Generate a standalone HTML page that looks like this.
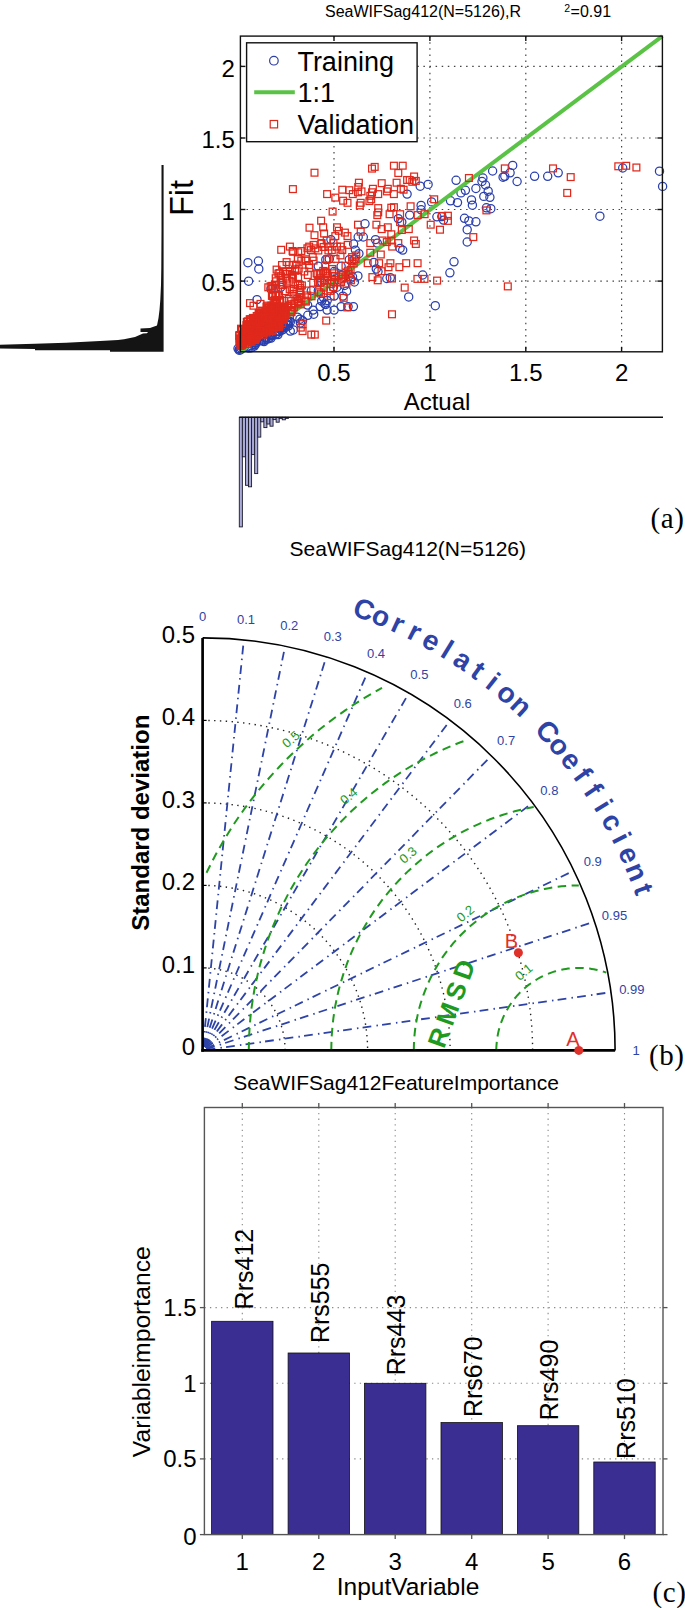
<!DOCTYPE html>
<html><head><meta charset="utf-8"><style>
html,body{margin:0;padding:0;background:#fff;overflow:hidden;}
svg{display:block;}
text{font-family:"Liberation Sans",sans-serif;}
</style></head><body>
<svg width="685" height="1608" viewBox="0 0 685 1608" font-family="Liberation Sans, sans-serif">
<rect width="685" height="1608" fill="#fff"/>
<g id="pa">
<text x="325.0" y="17.2" font-size="16" text-anchor="start" fill="#000">SeaWIFSag412(N=5126),R</text>
<text x="564.3" y="11.8" font-size="10.5" text-anchor="start" fill="#000">2</text>
<text x="570.6" y="17.2" font-size="16" text-anchor="start" fill="#000">=0.91</text>
<line x1="334.0" y1="36.1" x2="334.0" y2="351.8" stroke="#444" stroke-width="1.2" stroke-dasharray="1.5 4.6"/>
<line x1="240.4" y1="281.1" x2="662.4" y2="281.1" stroke="#444" stroke-width="1.2" stroke-dasharray="1.5 4.6"/>
<line x1="429.9" y1="36.1" x2="429.9" y2="351.8" stroke="#444" stroke-width="1.2" stroke-dasharray="1.5 4.6"/>
<line x1="240.4" y1="209.5" x2="662.4" y2="209.5" stroke="#444" stroke-width="1.2" stroke-dasharray="1.5 4.6"/>
<line x1="525.8" y1="36.1" x2="525.8" y2="351.8" stroke="#444" stroke-width="1.2" stroke-dasharray="1.5 4.6"/>
<line x1="240.4" y1="138.0" x2="662.4" y2="138.0" stroke="#444" stroke-width="1.2" stroke-dasharray="1.5 4.6"/>
<line x1="621.6" y1="36.1" x2="621.6" y2="351.8" stroke="#444" stroke-width="1.2" stroke-dasharray="1.5 4.6"/>
<line x1="240.4" y1="66.4" x2="662.4" y2="66.4" stroke="#444" stroke-width="1.2" stroke-dasharray="1.5 4.6"/>
<g fill="none" stroke="#2a3fae" stroke-width="1.25">
<circle cx="264.9" cy="337.7" r="4.1"/>
<circle cx="265.6" cy="339.4" r="4.1"/>
<circle cx="264.5" cy="340.2" r="4.1"/>
<circle cx="279.1" cy="331.4" r="4.1"/>
<circle cx="279.5" cy="329.0" r="4.1"/>
<circle cx="239.1" cy="350.2" r="4.1"/>
<circle cx="251.1" cy="345.6" r="4.1"/>
<circle cx="287.5" cy="324.8" r="4.1"/>
<circle cx="238.0" cy="348.5" r="4.1"/>
<circle cx="256.4" cy="341.0" r="4.1"/>
<circle cx="269.0" cy="338.4" r="4.1"/>
<circle cx="277.1" cy="331.0" r="4.1"/>
<circle cx="275.4" cy="334.7" r="4.1"/>
<circle cx="271.4" cy="334.5" r="4.1"/>
<circle cx="254.3" cy="346.1" r="4.1"/>
<circle cx="254.0" cy="344.5" r="4.1"/>
<circle cx="282.6" cy="326.0" r="4.1"/>
<circle cx="286.8" cy="320.9" r="4.1"/>
<circle cx="248.7" cy="348.1" r="4.1"/>
<circle cx="255.4" cy="344.4" r="4.1"/>
<circle cx="289.2" cy="320.9" r="4.1"/>
<circle cx="253.0" cy="342.4" r="4.1"/>
<circle cx="272.1" cy="335.5" r="4.1"/>
<circle cx="248.5" cy="346.5" r="4.1"/>
<circle cx="287.9" cy="322.3" r="4.1"/>
<circle cx="272.1" cy="335.7" r="4.1"/>
<circle cx="284.1" cy="325.8" r="4.1"/>
<circle cx="285.8" cy="322.5" r="4.1"/>
<circle cx="259.2" cy="341.0" r="4.1"/>
<circle cx="290.3" cy="321.9" r="4.1"/>
<circle cx="288.0" cy="321.2" r="4.1"/>
<circle cx="240.4" cy="349.9" r="4.1"/>
<circle cx="277.7" cy="331.6" r="4.1"/>
<circle cx="270.0" cy="334.9" r="4.1"/>
<circle cx="279.1" cy="331.6" r="4.1"/>
<circle cx="239.5" cy="349.2" r="4.1"/>
<circle cx="266.0" cy="338.0" r="4.1"/>
<circle cx="252.6" cy="342.0" r="4.1"/>
<circle cx="241.0" cy="348.3" r="4.1"/>
<circle cx="276.8" cy="333.7" r="4.1"/>
<circle cx="261.4" cy="340.4" r="4.1"/>
<circle cx="243.3" cy="347.9" r="4.1"/>
<circle cx="267.3" cy="339.1" r="4.1"/>
<circle cx="281.5" cy="330.4" r="4.1"/>
<circle cx="242.3" cy="347.3" r="4.1"/>
<circle cx="256.7" cy="342.3" r="4.1"/>
<circle cx="281.2" cy="328.2" r="4.1"/>
<circle cx="285.4" cy="327.4" r="4.1"/>
<circle cx="266.9" cy="337.0" r="4.1"/>
<circle cx="251.3" cy="347.7" r="4.1"/>
<circle cx="293.3" cy="329.9" r="4.1"/>
<circle cx="342.9" cy="296.1" r="4.1"/>
<circle cx="324.8" cy="303.9" r="4.1"/>
<circle cx="333.4" cy="287.3" r="4.1"/>
<circle cx="307.6" cy="305.1" r="4.1"/>
<circle cx="299.9" cy="319.2" r="4.1"/>
<circle cx="321.7" cy="301.1" r="4.1"/>
<circle cx="346.6" cy="291.2" r="4.1"/>
<circle cx="350.5" cy="278.5" r="4.1"/>
<circle cx="344.5" cy="285.5" r="4.1"/>
<circle cx="325.9" cy="304.5" r="4.1"/>
<circle cx="300.4" cy="322.9" r="4.1"/>
<circle cx="313.7" cy="314.2" r="4.1"/>
<circle cx="336.9" cy="287.2" r="4.1"/>
<circle cx="327.2" cy="300.5" r="4.1"/>
<circle cx="456.1" cy="180.3" r="4.1"/>
<circle cx="492.6" cy="171.0" r="4.1"/>
<circle cx="512.7" cy="165.4" r="4.1"/>
<circle cx="510.1" cy="172.8" r="4.1"/>
<circle cx="503.1" cy="177.2" r="4.1"/>
<circle cx="504.8" cy="176.3" r="4.1"/>
<circle cx="517.1" cy="181.5" r="4.1"/>
<circle cx="534.6" cy="176.3" r="4.1"/>
<circle cx="547.7" cy="176.3" r="4.1"/>
<circle cx="558.2" cy="172.8" r="4.1"/>
<circle cx="482.9" cy="178.0" r="4.1"/>
<circle cx="482.0" cy="181.5" r="4.1"/>
<circle cx="485.5" cy="185.0" r="4.1"/>
<circle cx="475.9" cy="188.5" r="4.1"/>
<circle cx="465.4" cy="190.3" r="4.1"/>
<circle cx="461.0" cy="192.9" r="4.1"/>
<circle cx="488.2" cy="191.2" r="4.1"/>
<circle cx="483.8" cy="196.4" r="4.1"/>
<circle cx="489.9" cy="197.3" r="4.1"/>
<circle cx="471.5" cy="199.9" r="4.1"/>
<circle cx="472.4" cy="205.2" r="4.1"/>
<circle cx="457.5" cy="202.6" r="4.1"/>
<circle cx="450.5" cy="200.8" r="4.1"/>
<circle cx="486.4" cy="207.8" r="4.1"/>
<circle cx="490.8" cy="208.7" r="4.1"/>
<circle cx="464.5" cy="218.3" r="4.1"/>
<circle cx="468.9" cy="220.9" r="4.1"/>
<circle cx="475.9" cy="221.8" r="4.1"/>
<circle cx="467.2" cy="229.7" r="4.1"/>
<circle cx="467.2" cy="242.0" r="4.1"/>
<circle cx="454.0" cy="261.8" r="4.1"/>
<circle cx="441.8" cy="216.6" r="4.1"/>
<circle cx="443.5" cy="220.1" r="4.1"/>
<circle cx="599.9" cy="216.2" r="4.1"/>
<circle cx="622.7" cy="168.0" r="4.1"/>
<circle cx="659.5" cy="171.2" r="4.1"/>
<circle cx="662.6" cy="186.4" r="4.1"/>
<circle cx="428.1" cy="184.4" r="4.1"/>
<circle cx="420.2" cy="186.2" r="4.1"/>
<circle cx="407.1" cy="194.1" r="4.1"/>
<circle cx="421.1" cy="205.4" r="4.1"/>
<circle cx="431.6" cy="201.9" r="4.1"/>
<circle cx="398.3" cy="218.6" r="4.1"/>
<circle cx="409.7" cy="215.1" r="4.1"/>
<circle cx="401.8" cy="222.1" r="4.1"/>
<circle cx="421.1" cy="209.8" r="4.1"/>
<circle cx="436.9" cy="216.8" r="4.1"/>
<circle cx="365.0" cy="223.8" r="4.1"/>
<circle cx="363.3" cy="237.0" r="4.1"/>
<circle cx="375.5" cy="239.6" r="4.1"/>
<circle cx="377.3" cy="243.1" r="4.1"/>
<circle cx="353.6" cy="244.0" r="4.1"/>
<circle cx="355.4" cy="250.1" r="4.1"/>
<circle cx="358.9" cy="253.6" r="4.1"/>
<circle cx="349.3" cy="259.7" r="4.1"/>
<circle cx="400.1" cy="248.4" r="4.1"/>
<circle cx="402.7" cy="250.1" r="4.1"/>
<circle cx="330.9" cy="239.6" r="4.1"/>
<circle cx="373.8" cy="262.4" r="4.1"/>
<circle cx="247.9" cy="262.7" r="4.1"/>
<circle cx="258.4" cy="261.0" r="4.1"/>
<circle cx="325.8" cy="259.7" r="4.1"/>
<circle cx="329.3" cy="258.9" r="4.1"/>
<circle cx="358.2" cy="237.0" r="4.1"/>
<circle cx="258.8" cy="268.9" r="4.1"/>
<circle cx="248.6" cy="281.2" r="4.1"/>
<circle cx="257.0" cy="299.6" r="4.1"/>
<circle cx="271.0" cy="289.1" r="4.1"/>
<circle cx="280.7" cy="287.3" r="4.1"/>
<circle cx="318.3" cy="266.3" r="4.1"/>
<circle cx="334.1" cy="271.5" r="4.1"/>
<circle cx="341.1" cy="266.3" r="4.1"/>
<circle cx="354.2" cy="259.3" r="4.1"/>
<circle cx="352.5" cy="276.8" r="4.1"/>
<circle cx="321.8" cy="282.0" r="4.1"/>
<circle cx="311.3" cy="290.8" r="4.1"/>
<circle cx="318.3" cy="290.8" r="4.1"/>
<circle cx="323.6" cy="297.8" r="4.1"/>
<circle cx="334.1" cy="296.1" r="4.1"/>
<circle cx="341.1" cy="306.6" r="4.1"/>
<circle cx="348.1" cy="306.6" r="4.1"/>
<circle cx="353.4" cy="306.6" r="4.1"/>
<circle cx="334.1" cy="310.1" r="4.1"/>
<circle cx="327.1" cy="310.1" r="4.1"/>
<circle cx="320.1" cy="306.6" r="4.1"/>
<circle cx="313.1" cy="310.1" r="4.1"/>
<circle cx="307.8" cy="315.3" r="4.1"/>
<circle cx="302.6" cy="320.6" r="4.1"/>
<circle cx="297.3" cy="317.1" r="4.1"/>
<circle cx="290.3" cy="331.1" r="4.1"/>
<circle cx="288.6" cy="325.8" r="4.1"/>
<circle cx="283.3" cy="329.3" r="4.1"/>
<circle cx="278.0" cy="334.6" r="4.1"/>
<circle cx="271.0" cy="338.1" r="4.1"/>
<circle cx="264.0" cy="341.6" r="4.1"/>
<circle cx="376.3" cy="268.9" r="4.1"/>
<circle cx="378.0" cy="271.5" r="4.1"/>
<circle cx="357.9" cy="275.9" r="4.1"/>
<circle cx="354.4" cy="282.0" r="4.1"/>
<circle cx="386.8" cy="278.5" r="4.1"/>
<circle cx="390.3" cy="277.7" r="4.1"/>
<circle cx="422.7" cy="275.0" r="4.1"/>
<circle cx="408.7" cy="296.9" r="4.1"/>
<circle cx="435.3" cy="305.7" r="4.1"/>
<circle cx="449.9" cy="272.8" r="4.1"/>
</g>
<line x1="240.4" y1="351.8" x2="662.4" y2="36.1" stroke="#5ac346" stroke-width="4"/>
<g fill="none" stroke="#e0281c" stroke-width="1.25">
<rect x="267.2" y="319.5" width="6.8" height="6.8"/>
<rect x="261.2" y="325.6" width="6.8" height="6.8"/>
<rect x="276.0" y="315.9" width="6.8" height="6.8"/>
<rect x="276.6" y="316.0" width="6.8" height="6.8"/>
<rect x="247.7" y="325.3" width="6.8" height="6.8"/>
<rect x="250.5" y="334.6" width="6.8" height="6.8"/>
<rect x="342.1" y="262.3" width="6.8" height="6.8"/>
<rect x="326.9" y="287.5" width="6.8" height="6.8"/>
<rect x="328.8" y="265.6" width="6.8" height="6.8"/>
<rect x="267.9" y="302.2" width="6.8" height="6.8"/>
<rect x="267.2" y="316.1" width="6.8" height="6.8"/>
<rect x="248.1" y="338.6" width="6.8" height="6.8"/>
<rect x="262.0" y="323.2" width="6.8" height="6.8"/>
<rect x="322.5" y="270.9" width="6.8" height="6.8"/>
<rect x="320.6" y="284.2" width="6.8" height="6.8"/>
<rect x="280.7" y="303.9" width="6.8" height="6.8"/>
<rect x="239.3" y="339.0" width="6.8" height="6.8"/>
<rect x="314.1" y="270.8" width="6.8" height="6.8"/>
<rect x="273.0" y="299.9" width="6.8" height="6.8"/>
<rect x="253.4" y="323.5" width="6.8" height="6.8"/>
<rect x="250.1" y="332.7" width="6.8" height="6.8"/>
<rect x="254.1" y="325.3" width="6.8" height="6.8"/>
<rect x="266.6" y="322.8" width="6.8" height="6.8"/>
<rect x="278.0" y="316.7" width="6.8" height="6.8"/>
<rect x="302.2" y="297.2" width="6.8" height="6.8"/>
<rect x="265.1" y="326.4" width="6.8" height="6.8"/>
<rect x="263.9" y="307.0" width="6.8" height="6.8"/>
<rect x="240.5" y="330.7" width="6.8" height="6.8"/>
<rect x="267.6" y="321.0" width="6.8" height="6.8"/>
<rect x="276.1" y="296.7" width="6.8" height="6.8"/>
<rect x="266.0" y="326.1" width="6.8" height="6.8"/>
<rect x="251.1" y="315.5" width="6.8" height="6.8"/>
<rect x="260.4" y="325.0" width="6.8" height="6.8"/>
<rect x="245.1" y="325.6" width="6.8" height="6.8"/>
<rect x="263.3" y="309.2" width="6.8" height="6.8"/>
<rect x="317.7" y="269.5" width="6.8" height="6.8"/>
<rect x="268.5" y="327.8" width="6.8" height="6.8"/>
<rect x="249.9" y="322.2" width="6.8" height="6.8"/>
<rect x="243.8" y="330.2" width="6.8" height="6.8"/>
<rect x="271.2" y="309.0" width="6.8" height="6.8"/>
<rect x="273.1" y="306.5" width="6.8" height="6.8"/>
<rect x="331.3" y="273.0" width="6.8" height="6.8"/>
<rect x="280.4" y="297.4" width="6.8" height="6.8"/>
<rect x="269.3" y="303.0" width="6.8" height="6.8"/>
<rect x="258.6" y="327.9" width="6.8" height="6.8"/>
<rect x="293.1" y="261.2" width="6.8" height="6.8"/>
<rect x="246.7" y="337.4" width="6.8" height="6.8"/>
<rect x="254.1" y="314.7" width="6.8" height="6.8"/>
<rect x="250.6" y="314.7" width="6.8" height="6.8"/>
<rect x="279.5" y="316.4" width="6.8" height="6.8"/>
<rect x="251.7" y="331.6" width="6.8" height="6.8"/>
<rect x="296.2" y="294.1" width="6.8" height="6.8"/>
<rect x="262.9" y="307.7" width="6.8" height="6.8"/>
<rect x="263.5" y="302.2" width="6.8" height="6.8"/>
<rect x="251.2" y="334.9" width="6.8" height="6.8"/>
<rect x="276.1" y="303.4" width="6.8" height="6.8"/>
<rect x="279.8" y="307.2" width="6.8" height="6.8"/>
<rect x="260.7" y="329.1" width="6.8" height="6.8"/>
<rect x="269.1" y="284.9" width="6.8" height="6.8"/>
<rect x="283.3" y="280.0" width="6.8" height="6.8"/>
<rect x="238.9" y="334.0" width="6.8" height="6.8"/>
<rect x="303.9" y="292.0" width="6.8" height="6.8"/>
<rect x="252.0" y="317.9" width="6.8" height="6.8"/>
<rect x="321.8" y="262.1" width="6.8" height="6.8"/>
<rect x="277.1" y="278.8" width="6.8" height="6.8"/>
<rect x="242.2" y="329.2" width="6.8" height="6.8"/>
<rect x="308.2" y="292.9" width="6.8" height="6.8"/>
<rect x="269.2" y="307.5" width="6.8" height="6.8"/>
<rect x="274.9" y="309.0" width="6.8" height="6.8"/>
<rect x="273.5" y="320.8" width="6.8" height="6.8"/>
<rect x="255.3" y="317.1" width="6.8" height="6.8"/>
<rect x="278.7" y="319.6" width="6.8" height="6.8"/>
<rect x="247.7" y="316.9" width="6.8" height="6.8"/>
<rect x="287.8" y="297.7" width="6.8" height="6.8"/>
<rect x="274.2" y="322.8" width="6.8" height="6.8"/>
<rect x="269.0" y="317.3" width="6.8" height="6.8"/>
<rect x="272.8" y="317.2" width="6.8" height="6.8"/>
<rect x="259.1" y="328.8" width="6.8" height="6.8"/>
<rect x="276.1" y="269.7" width="6.8" height="6.8"/>
<rect x="290.9" y="300.2" width="6.8" height="6.8"/>
<rect x="245.8" y="325.6" width="6.8" height="6.8"/>
<rect x="267.7" y="304.6" width="6.8" height="6.8"/>
<rect x="273.7" y="311.3" width="6.8" height="6.8"/>
<rect x="257.6" y="309.3" width="6.8" height="6.8"/>
<rect x="275.4" y="306.8" width="6.8" height="6.8"/>
<rect x="270.5" y="319.7" width="6.8" height="6.8"/>
<rect x="264.2" y="307.3" width="6.8" height="6.8"/>
<rect x="260.9" y="315.2" width="6.8" height="6.8"/>
<rect x="288.7" y="273.2" width="6.8" height="6.8"/>
<rect x="257.9" y="326.8" width="6.8" height="6.8"/>
<rect x="287.2" y="308.2" width="6.8" height="6.8"/>
<rect x="268.5" y="292.5" width="6.8" height="6.8"/>
<rect x="243.0" y="321.7" width="6.8" height="6.8"/>
<rect x="281.5" y="287.8" width="6.8" height="6.8"/>
<rect x="294.9" y="299.4" width="6.8" height="6.8"/>
<rect x="274.2" y="316.3" width="6.8" height="6.8"/>
<rect x="275.0" y="308.3" width="6.8" height="6.8"/>
<rect x="259.6" y="324.8" width="6.8" height="6.8"/>
<rect x="271.7" y="312.5" width="6.8" height="6.8"/>
<rect x="319.8" y="267.5" width="6.8" height="6.8"/>
<rect x="246.3" y="316.0" width="6.8" height="6.8"/>
<rect x="249.5" y="314.5" width="6.8" height="6.8"/>
<rect x="276.6" y="296.7" width="6.8" height="6.8"/>
<rect x="247.3" y="330.2" width="6.8" height="6.8"/>
<rect x="278.0" y="279.0" width="6.8" height="6.8"/>
<rect x="261.3" y="320.8" width="6.8" height="6.8"/>
<rect x="241.1" y="328.3" width="6.8" height="6.8"/>
<rect x="271.2" y="304.7" width="6.8" height="6.8"/>
<rect x="255.3" y="312.4" width="6.8" height="6.8"/>
<rect x="347.2" y="266.4" width="6.8" height="6.8"/>
<rect x="236.7" y="338.3" width="6.8" height="6.8"/>
<rect x="280.1" y="311.6" width="6.8" height="6.8"/>
<rect x="271.7" y="309.4" width="6.8" height="6.8"/>
<rect x="265.0" y="322.5" width="6.8" height="6.8"/>
<rect x="284.3" y="303.8" width="6.8" height="6.8"/>
<rect x="275.3" y="322.3" width="6.8" height="6.8"/>
<rect x="269.3" y="326.9" width="6.8" height="6.8"/>
<rect x="348.9" y="257.8" width="6.8" height="6.8"/>
<rect x="269.6" y="319.1" width="6.8" height="6.8"/>
<rect x="263.8" y="323.7" width="6.8" height="6.8"/>
<rect x="288.3" y="271.5" width="6.8" height="6.8"/>
<rect x="255.0" y="315.6" width="6.8" height="6.8"/>
<rect x="241.8" y="327.8" width="6.8" height="6.8"/>
<rect x="247.3" y="325.9" width="6.8" height="6.8"/>
<rect x="263.7" y="317.3" width="6.8" height="6.8"/>
<rect x="266.0" y="323.7" width="6.8" height="6.8"/>
<rect x="260.1" y="309.3" width="6.8" height="6.8"/>
<rect x="238.0" y="325.9" width="6.8" height="6.8"/>
<rect x="240.8" y="332.6" width="6.8" height="6.8"/>
<rect x="254.9" y="320.2" width="6.8" height="6.8"/>
<rect x="266.3" y="310.6" width="6.8" height="6.8"/>
<rect x="258.9" y="314.1" width="6.8" height="6.8"/>
<rect x="273.2" y="323.8" width="6.8" height="6.8"/>
<rect x="260.3" y="313.3" width="6.8" height="6.8"/>
<rect x="256.9" y="322.9" width="6.8" height="6.8"/>
<rect x="286.1" y="277.3" width="6.8" height="6.8"/>
<rect x="276.2" y="303.1" width="6.8" height="6.8"/>
<rect x="239.8" y="340.8" width="6.8" height="6.8"/>
<rect x="242.2" y="325.9" width="6.8" height="6.8"/>
<rect x="260.8" y="310.8" width="6.8" height="6.8"/>
<rect x="281.2" y="311.6" width="6.8" height="6.8"/>
<rect x="270.3" y="319.0" width="6.8" height="6.8"/>
<rect x="251.8" y="332.0" width="6.8" height="6.8"/>
<rect x="266.9" y="305.8" width="6.8" height="6.8"/>
<rect x="255.4" y="310.3" width="6.8" height="6.8"/>
<rect x="246.2" y="325.3" width="6.8" height="6.8"/>
<rect x="254.3" y="314.4" width="6.8" height="6.8"/>
<rect x="253.7" y="326.2" width="6.8" height="6.8"/>
<rect x="314.8" y="278.7" width="6.8" height="6.8"/>
<rect x="237.6" y="325.3" width="6.8" height="6.8"/>
<rect x="244.8" y="331.3" width="6.8" height="6.8"/>
<rect x="277.7" y="272.9" width="6.8" height="6.8"/>
<rect x="272.1" y="312.7" width="6.8" height="6.8"/>
<rect x="275.2" y="318.4" width="6.8" height="6.8"/>
<rect x="267.2" y="282.9" width="6.8" height="6.8"/>
<rect x="271.7" y="308.6" width="6.8" height="6.8"/>
<rect x="294.8" y="248.9" width="6.8" height="6.8"/>
<rect x="281.4" y="305.6" width="6.8" height="6.8"/>
<rect x="290.5" y="303.9" width="6.8" height="6.8"/>
<rect x="272.1" y="307.7" width="6.8" height="6.8"/>
<rect x="251.4" y="336.5" width="6.8" height="6.8"/>
<rect x="276.2" y="306.2" width="6.8" height="6.8"/>
<rect x="271.4" y="305.7" width="6.8" height="6.8"/>
<rect x="261.5" y="322.7" width="6.8" height="6.8"/>
<rect x="270.3" y="314.4" width="6.8" height="6.8"/>
<rect x="250.9" y="315.1" width="6.8" height="6.8"/>
<rect x="276.0" y="307.4" width="6.8" height="6.8"/>
<rect x="279.0" y="281.6" width="6.8" height="6.8"/>
<rect x="275.1" y="304.1" width="6.8" height="6.8"/>
<rect x="316.3" y="269.9" width="6.8" height="6.8"/>
<rect x="241.9" y="340.5" width="6.8" height="6.8"/>
<rect x="329.9" y="283.7" width="6.8" height="6.8"/>
<rect x="260.3" y="317.6" width="6.8" height="6.8"/>
<rect x="251.7" y="336.6" width="6.8" height="6.8"/>
<rect x="317.2" y="279.5" width="6.8" height="6.8"/>
<rect x="303.1" y="287.1" width="6.8" height="6.8"/>
<rect x="270.2" y="317.3" width="6.8" height="6.8"/>
<rect x="250.9" y="321.3" width="6.8" height="6.8"/>
<rect x="256.5" y="309.1" width="6.8" height="6.8"/>
<rect x="238.6" y="326.7" width="6.8" height="6.8"/>
<rect x="316.7" y="274.9" width="6.8" height="6.8"/>
<rect x="291.6" y="266.0" width="6.8" height="6.8"/>
<rect x="294.2" y="297.5" width="6.8" height="6.8"/>
<rect x="290.1" y="290.6" width="6.8" height="6.8"/>
<rect x="271.3" y="296.8" width="6.8" height="6.8"/>
<rect x="272.2" y="304.6" width="6.8" height="6.8"/>
<rect x="281.9" y="312.2" width="6.8" height="6.8"/>
<rect x="264.6" y="320.4" width="6.8" height="6.8"/>
<rect x="273.5" y="323.2" width="6.8" height="6.8"/>
<rect x="252.2" y="321.5" width="6.8" height="6.8"/>
<rect x="289.5" y="275.2" width="6.8" height="6.8"/>
<rect x="276.0" y="317.6" width="6.8" height="6.8"/>
<rect x="259.4" y="324.4" width="6.8" height="6.8"/>
<rect x="277.9" y="305.1" width="6.8" height="6.8"/>
<rect x="288.0" y="308.9" width="6.8" height="6.8"/>
<rect x="265.5" y="325.2" width="6.8" height="6.8"/>
<rect x="270.9" y="324.2" width="6.8" height="6.8"/>
<rect x="288.1" y="300.8" width="6.8" height="6.8"/>
<rect x="272.7" y="291.2" width="6.8" height="6.8"/>
<rect x="297.3" y="301.0" width="6.8" height="6.8"/>
<rect x="279.6" y="267.8" width="6.8" height="6.8"/>
<rect x="260.2" y="316.1" width="6.8" height="6.8"/>
<rect x="241.5" y="338.0" width="6.8" height="6.8"/>
<rect x="262.0" y="320.1" width="6.8" height="6.8"/>
<rect x="350.3" y="260.1" width="6.8" height="6.8"/>
<rect x="245.9" y="320.9" width="6.8" height="6.8"/>
<rect x="262.9" y="308.0" width="6.8" height="6.8"/>
<rect x="244.1" y="328.3" width="6.8" height="6.8"/>
<rect x="249.8" y="321.4" width="6.8" height="6.8"/>
<rect x="322.5" y="269.5" width="6.8" height="6.8"/>
<rect x="255.1" y="327.3" width="6.8" height="6.8"/>
<rect x="243.4" y="318.6" width="6.8" height="6.8"/>
<rect x="273.1" y="299.8" width="6.8" height="6.8"/>
<rect x="281.4" y="308.6" width="6.8" height="6.8"/>
<rect x="272.3" y="274.8" width="6.8" height="6.8"/>
<rect x="294.5" y="281.9" width="6.8" height="6.8"/>
<rect x="270.4" y="314.3" width="6.8" height="6.8"/>
<rect x="238.4" y="331.2" width="6.8" height="6.8"/>
<rect x="252.8" y="328.6" width="6.8" height="6.8"/>
<rect x="263.1" y="303.3" width="6.8" height="6.8"/>
<rect x="252.7" y="325.4" width="6.8" height="6.8"/>
<rect x="250.9" y="320.9" width="6.8" height="6.8"/>
<rect x="275.0" y="270.1" width="6.8" height="6.8"/>
<rect x="244.1" y="340.5" width="6.8" height="6.8"/>
<rect x="290.5" y="285.6" width="6.8" height="6.8"/>
<rect x="239.2" y="336.5" width="6.8" height="6.8"/>
<rect x="237.7" y="341.3" width="6.8" height="6.8"/>
<rect x="235.8" y="332.5" width="6.8" height="6.8"/>
<rect x="269.9" y="303.4" width="6.8" height="6.8"/>
<rect x="243.2" y="331.5" width="6.8" height="6.8"/>
<rect x="264.5" y="306.2" width="6.8" height="6.8"/>
<rect x="247.3" y="333.4" width="6.8" height="6.8"/>
<rect x="263.8" y="324.1" width="6.8" height="6.8"/>
<rect x="268.6" y="311.5" width="6.8" height="6.8"/>
<rect x="250.2" y="321.3" width="6.8" height="6.8"/>
<rect x="236.0" y="331.6" width="6.8" height="6.8"/>
<rect x="289.7" y="248.4" width="6.8" height="6.8"/>
<rect x="245.4" y="321.0" width="6.8" height="6.8"/>
<rect x="275.8" y="307.9" width="6.8" height="6.8"/>
<rect x="246.0" y="329.5" width="6.8" height="6.8"/>
<rect x="272.7" y="277.9" width="6.8" height="6.8"/>
<rect x="283.2" y="258.7" width="6.8" height="6.8"/>
<rect x="259.8" y="331.3" width="6.8" height="6.8"/>
<rect x="265.5" y="304.9" width="6.8" height="6.8"/>
<rect x="263.2" y="319.3" width="6.8" height="6.8"/>
<rect x="328.6" y="276.8" width="6.8" height="6.8"/>
<rect x="272.7" y="323.2" width="6.8" height="6.8"/>
<rect x="286.5" y="267.6" width="6.8" height="6.8"/>
<rect x="254.6" y="314.0" width="6.8" height="6.8"/>
<rect x="272.6" y="312.6" width="6.8" height="6.8"/>
<rect x="249.0" y="331.6" width="6.8" height="6.8"/>
<rect x="279.9" y="307.7" width="6.8" height="6.8"/>
<rect x="248.3" y="332.5" width="6.8" height="6.8"/>
<rect x="275.4" y="312.8" width="6.8" height="6.8"/>
<rect x="270.6" y="322.3" width="6.8" height="6.8"/>
<rect x="254.8" y="329.5" width="6.8" height="6.8"/>
<rect x="288.9" y="306.6" width="6.8" height="6.8"/>
<rect x="248.1" y="321.9" width="6.8" height="6.8"/>
<rect x="238.7" y="332.1" width="6.8" height="6.8"/>
<rect x="285.3" y="295.6" width="6.8" height="6.8"/>
<rect x="296.8" y="284.6" width="6.8" height="6.8"/>
<rect x="251.6" y="329.3" width="6.8" height="6.8"/>
<rect x="267.1" y="310.0" width="6.8" height="6.8"/>
<rect x="279.6" y="306.1" width="6.8" height="6.8"/>
<rect x="270.7" y="307.6" width="6.8" height="6.8"/>
<rect x="261.5" y="313.9" width="6.8" height="6.8"/>
<rect x="249.8" y="335.0" width="6.8" height="6.8"/>
<rect x="272.9" y="285.3" width="6.8" height="6.8"/>
<rect x="235.9" y="338.9" width="6.8" height="6.8"/>
<rect x="255.8" y="313.2" width="6.8" height="6.8"/>
<rect x="280.5" y="315.3" width="6.8" height="6.8"/>
<rect x="256.6" y="318.4" width="6.8" height="6.8"/>
<rect x="275.7" y="323.5" width="6.8" height="6.8"/>
<rect x="267.3" y="315.1" width="6.8" height="6.8"/>
<rect x="241.8" y="331.3" width="6.8" height="6.8"/>
<rect x="273.7" y="300.8" width="6.8" height="6.8"/>
<rect x="238.0" y="338.1" width="6.8" height="6.8"/>
<rect x="269.5" y="292.6" width="6.8" height="6.8"/>
<rect x="315.9" y="288.8" width="6.8" height="6.8"/>
<rect x="302.5" y="298.2" width="6.8" height="6.8"/>
<rect x="339.6" y="271.3" width="6.8" height="6.8"/>
<rect x="253.3" y="333.0" width="6.8" height="6.8"/>
<rect x="271.1" y="308.5" width="6.8" height="6.8"/>
<rect x="251.3" y="331.9" width="6.8" height="6.8"/>
<rect x="335.3" y="273.2" width="6.8" height="6.8"/>
<rect x="264.9" y="283.9" width="6.8" height="6.8"/>
<rect x="305.6" y="261.6" width="6.8" height="6.8"/>
<rect x="260.1" y="329.4" width="6.8" height="6.8"/>
<rect x="245.1" y="334.2" width="6.8" height="6.8"/>
<rect x="246.9" y="315.8" width="6.8" height="6.8"/>
<rect x="273.6" y="315.1" width="6.8" height="6.8"/>
<rect x="253.2" y="329.9" width="6.8" height="6.8"/>
<rect x="267.8" y="306.5" width="6.8" height="6.8"/>
<rect x="271.8" y="281.2" width="6.8" height="6.8"/>
<rect x="262.4" y="320.6" width="6.8" height="6.8"/>
<rect x="304.0" y="244.9" width="6.8" height="6.8"/>
<rect x="250.9" y="316.8" width="6.8" height="6.8"/>
<rect x="278.5" y="314.1" width="6.8" height="6.8"/>
<rect x="282.3" y="270.4" width="6.8" height="6.8"/>
<rect x="247.3" y="336.9" width="6.8" height="6.8"/>
<rect x="297.1" y="286.7" width="6.8" height="6.8"/>
<rect x="250.0" y="317.5" width="6.8" height="6.8"/>
<rect x="272.1" y="297.1" width="6.8" height="6.8"/>
<rect x="276.3" y="304.6" width="6.8" height="6.8"/>
<rect x="251.6" y="317.4" width="6.8" height="6.8"/>
<rect x="294.7" y="273.6" width="6.8" height="6.8"/>
<rect x="272.3" y="300.3" width="6.8" height="6.8"/>
<rect x="273.0" y="308.9" width="6.8" height="6.8"/>
<rect x="249.8" y="318.7" width="6.8" height="6.8"/>
<rect x="271.1" y="317.2" width="6.8" height="6.8"/>
<rect x="243.8" y="320.9" width="6.8" height="6.8"/>
<rect x="345.4" y="270.4" width="6.8" height="6.8"/>
<rect x="259.6" y="320.5" width="6.8" height="6.8"/>
<rect x="286.3" y="285.9" width="6.8" height="6.8"/>
<rect x="255.4" y="309.5" width="6.8" height="6.8"/>
<rect x="292.0" y="267.4" width="6.8" height="6.8"/>
<rect x="263.8" y="310.8" width="6.8" height="6.8"/>
<rect x="242.5" y="333.7" width="6.8" height="6.8"/>
<rect x="243.3" y="329.1" width="6.8" height="6.8"/>
<rect x="255.6" y="323.5" width="6.8" height="6.8"/>
<rect x="280.2" y="303.8" width="6.8" height="6.8"/>
<rect x="248.2" y="328.9" width="6.8" height="6.8"/>
<rect x="250.7" y="335.5" width="6.8" height="6.8"/>
<rect x="252.9" y="326.5" width="6.8" height="6.8"/>
<rect x="237.4" y="335.1" width="6.8" height="6.8"/>
<rect x="274.2" y="292.2" width="6.8" height="6.8"/>
<rect x="262.7" y="316.2" width="6.8" height="6.8"/>
<rect x="258.2" y="311.9" width="6.8" height="6.8"/>
<rect x="252.5" y="329.7" width="6.8" height="6.8"/>
<rect x="246.8" y="320.4" width="6.8" height="6.8"/>
<rect x="276.2" y="307.7" width="6.8" height="6.8"/>
<rect x="277.9" y="312.5" width="6.8" height="6.8"/>
<rect x="296.4" y="281.6" width="6.8" height="6.8"/>
<rect x="273.2" y="266.2" width="6.8" height="6.8"/>
<rect x="240.8" y="332.5" width="6.8" height="6.8"/>
<rect x="242.2" y="330.0" width="6.8" height="6.8"/>
<rect x="245.0" y="337.0" width="6.8" height="6.8"/>
<rect x="258.0" y="312.8" width="6.8" height="6.8"/>
<rect x="298.1" y="294.9" width="6.8" height="6.8"/>
<rect x="283.6" y="270.6" width="6.8" height="6.8"/>
<rect x="249.4" y="321.8" width="6.8" height="6.8"/>
<rect x="252.6" y="319.5" width="6.8" height="6.8"/>
<rect x="241.7" y="335.3" width="6.8" height="6.8"/>
<rect x="306.0" y="264.5" width="6.8" height="6.8"/>
<rect x="266.2" y="327.3" width="6.8" height="6.8"/>
<rect x="262.4" y="324.6" width="6.8" height="6.8"/>
<rect x="259.3" y="317.0" width="6.8" height="6.8"/>
<rect x="237.1" y="342.6" width="6.8" height="6.8"/>
<rect x="256.2" y="315.9" width="6.8" height="6.8"/>
<rect x="334.1" y="279.2" width="6.8" height="6.8"/>
<rect x="324.5" y="272.7" width="6.8" height="6.8"/>
<rect x="254.3" y="330.1" width="6.8" height="6.8"/>
<rect x="271.9" y="291.9" width="6.8" height="6.8"/>
<rect x="244.5" y="321.4" width="6.8" height="6.8"/>
<rect x="293.8" y="295.6" width="6.8" height="6.8"/>
<rect x="248.2" y="323.9" width="6.8" height="6.8"/>
<rect x="320.4" y="276.8" width="6.8" height="6.8"/>
<rect x="269.5" y="319.1" width="6.8" height="6.8"/>
<rect x="282.2" y="310.6" width="6.8" height="6.8"/>
<rect x="265.0" y="323.8" width="6.8" height="6.8"/>
<rect x="263.8" y="312.7" width="6.8" height="6.8"/>
<rect x="268.8" y="282.5" width="6.8" height="6.8"/>
<rect x="272.3" y="309.2" width="6.8" height="6.8"/>
<rect x="268.7" y="327.1" width="6.8" height="6.8"/>
<rect x="278.9" y="303.5" width="6.8" height="6.8"/>
<rect x="272.9" y="311.7" width="6.8" height="6.8"/>
<rect x="282.4" y="307.6" width="6.8" height="6.8"/>
<rect x="277.0" y="311.2" width="6.8" height="6.8"/>
<rect x="325.0" y="247.1" width="6.8" height="6.8"/>
<rect x="338.7" y="275.3" width="6.8" height="6.8"/>
<rect x="251.9" y="324.5" width="6.8" height="6.8"/>
<rect x="247.9" y="330.6" width="6.8" height="6.8"/>
<rect x="239.4" y="338.8" width="6.8" height="6.8"/>
<rect x="244.3" y="328.2" width="6.8" height="6.8"/>
<rect x="255.2" y="318.0" width="6.8" height="6.8"/>
<rect x="298.5" y="282.0" width="6.8" height="6.8"/>
<rect x="247.2" y="322.6" width="6.8" height="6.8"/>
<rect x="270.5" y="323.8" width="6.8" height="6.8"/>
<rect x="264.1" y="308.8" width="6.8" height="6.8"/>
<rect x="344.8" y="267.8" width="6.8" height="6.8"/>
<rect x="259.9" y="310.3" width="6.8" height="6.8"/>
<rect x="285.1" y="302.0" width="6.8" height="6.8"/>
<rect x="236.3" y="335.1" width="6.8" height="6.8"/>
<rect x="252.5" y="334.6" width="6.8" height="6.8"/>
<rect x="257.3" y="318.2" width="6.8" height="6.8"/>
<rect x="278.3" y="313.9" width="6.8" height="6.8"/>
<rect x="317.9" y="240.2" width="6.8" height="6.8"/>
<rect x="270.2" y="297.5" width="6.8" height="6.8"/>
<rect x="271.6" y="302.5" width="6.8" height="6.8"/>
<rect x="248.6" y="330.8" width="6.8" height="6.8"/>
<rect x="256.4" y="315.1" width="6.8" height="6.8"/>
<rect x="276.1" y="322.1" width="6.8" height="6.8"/>
<rect x="267.0" y="318.7" width="6.8" height="6.8"/>
<rect x="257.6" y="323.3" width="6.8" height="6.8"/>
<rect x="258.5" y="316.9" width="6.8" height="6.8"/>
<rect x="239.8" y="338.3" width="6.8" height="6.8"/>
<rect x="262.3" y="325.0" width="6.8" height="6.8"/>
<rect x="269.0" y="323.9" width="6.8" height="6.8"/>
<rect x="265.5" y="310.3" width="6.8" height="6.8"/>
<rect x="246.9" y="321.8" width="6.8" height="6.8"/>
<rect x="255.2" y="319.2" width="6.8" height="6.8"/>
<rect x="275.7" y="292.1" width="6.8" height="6.8"/>
<rect x="264.6" y="304.5" width="6.8" height="6.8"/>
<rect x="272.2" y="311.7" width="6.8" height="6.8"/>
<rect x="253.5" y="332.7" width="6.8" height="6.8"/>
<rect x="275.5" y="321.0" width="6.8" height="6.8"/>
<rect x="262.1" y="308.7" width="6.8" height="6.8"/>
<rect x="247.4" y="326.1" width="6.8" height="6.8"/>
<rect x="248.6" y="333.5" width="6.8" height="6.8"/>
<rect x="314.9" y="279.1" width="6.8" height="6.8"/>
<rect x="269.4" y="308.2" width="6.8" height="6.8"/>
<rect x="264.7" y="319.8" width="6.8" height="6.8"/>
<rect x="263.1" y="329.0" width="6.8" height="6.8"/>
<rect x="266.5" y="314.7" width="6.8" height="6.8"/>
<rect x="258.4" y="314.3" width="6.8" height="6.8"/>
<rect x="253.3" y="312.6" width="6.8" height="6.8"/>
<rect x="279.8" y="305.7" width="6.8" height="6.8"/>
<rect x="238.5" y="336.6" width="6.8" height="6.8"/>
<rect x="271.2" y="285.8" width="6.8" height="6.8"/>
<rect x="269.8" y="304.7" width="6.8" height="6.8"/>
<rect x="283.0" y="275.2" width="6.8" height="6.8"/>
<rect x="270.0" y="322.5" width="6.8" height="6.8"/>
<rect x="263.7" y="313.6" width="6.8" height="6.8"/>
<rect x="246.7" y="337.2" width="6.8" height="6.8"/>
<rect x="246.8" y="337.6" width="6.8" height="6.8"/>
<rect x="261.5" y="312.9" width="6.8" height="6.8"/>
<rect x="243.9" y="323.3" width="6.8" height="6.8"/>
<rect x="261.2" y="309.2" width="6.8" height="6.8"/>
<rect x="246.2" y="337.0" width="6.8" height="6.8"/>
<rect x="296.1" y="289.8" width="6.8" height="6.8"/>
<rect x="273.9" y="308.3" width="6.8" height="6.8"/>
<rect x="294.7" y="298.8" width="6.8" height="6.8"/>
<rect x="253.1" y="333.3" width="6.8" height="6.8"/>
<rect x="272.8" y="314.2" width="6.8" height="6.8"/>
<rect x="253.0" y="317.8" width="6.8" height="6.8"/>
<rect x="262.7" y="327.9" width="6.8" height="6.8"/>
<rect x="274.7" y="320.4" width="6.8" height="6.8"/>
<rect x="248.1" y="328.7" width="6.8" height="6.8"/>
<rect x="290.0" y="287.3" width="6.8" height="6.8"/>
<rect x="295.3" y="265.3" width="6.8" height="6.8"/>
<rect x="287.9" y="308.5" width="6.8" height="6.8"/>
<rect x="259.8" y="329.2" width="6.8" height="6.8"/>
<rect x="266.8" y="309.7" width="6.8" height="6.8"/>
<rect x="302.2" y="257.3" width="6.8" height="6.8"/>
<rect x="317.6" y="290.1" width="6.8" height="6.8"/>
<rect x="256.5" y="327.6" width="6.8" height="6.8"/>
<rect x="254.8" y="331.8" width="6.8" height="6.8"/>
<rect x="269.2" y="313.3" width="6.8" height="6.8"/>
<rect x="265.9" y="307.7" width="6.8" height="6.8"/>
<rect x="269.8" y="307.7" width="6.8" height="6.8"/>
<rect x="267.0" y="327.7" width="6.8" height="6.8"/>
<rect x="238.5" y="342.0" width="6.8" height="6.8"/>
<rect x="256.4" y="318.9" width="6.8" height="6.8"/>
<rect x="244.3" y="317.9" width="6.8" height="6.8"/>
<rect x="309.8" y="279.4" width="6.8" height="6.8"/>
<rect x="465.5" y="174.6" width="6.8" height="6.8"/>
<rect x="501.4" y="165.0" width="6.8" height="6.8"/>
<rect x="549.6" y="165.0" width="6.8" height="6.8"/>
<rect x="483.0" y="207.0" width="6.8" height="6.8"/>
<rect x="444.5" y="212.3" width="6.8" height="6.8"/>
<rect x="444.5" y="217.5" width="6.8" height="6.8"/>
<rect x="469.9" y="233.7" width="6.8" height="6.8"/>
<rect x="436.6" y="226.3" width="6.8" height="6.8"/>
<rect x="567.3" y="173.7" width="6.8" height="6.8"/>
<rect x="563.8" y="189.5" width="6.8" height="6.8"/>
<rect x="614.9" y="162.9" width="6.8" height="6.8"/>
<rect x="622.8" y="162.4" width="6.8" height="6.8"/>
<rect x="633.0" y="164.1" width="6.8" height="6.8"/>
<rect x="368.6" y="165.2" width="6.8" height="6.8"/>
<rect x="371.3" y="163.5" width="6.8" height="6.8"/>
<rect x="390.5" y="162.3" width="6.8" height="6.8"/>
<rect x="399.3" y="162.3" width="6.8" height="6.8"/>
<rect x="394.9" y="169.6" width="6.8" height="6.8"/>
<rect x="410.7" y="173.1" width="6.8" height="6.8"/>
<rect x="406.3" y="176.6" width="6.8" height="6.8"/>
<rect x="408.9" y="178.4" width="6.8" height="6.8"/>
<rect x="412.4" y="177.5" width="6.8" height="6.8"/>
<rect x="403.7" y="176.6" width="6.8" height="6.8"/>
<rect x="355.5" y="179.3" width="6.8" height="6.8"/>
<rect x="378.3" y="179.8" width="6.8" height="6.8"/>
<rect x="393.2" y="179.3" width="6.8" height="6.8"/>
<rect x="338.9" y="186.3" width="6.8" height="6.8"/>
<rect x="345.9" y="186.8" width="6.8" height="6.8"/>
<rect x="349.4" y="190.7" width="6.8" height="6.8"/>
<rect x="354.6" y="188.9" width="6.8" height="6.8"/>
<rect x="358.1" y="188.0" width="6.8" height="6.8"/>
<rect x="369.5" y="185.4" width="6.8" height="6.8"/>
<rect x="368.6" y="188.9" width="6.8" height="6.8"/>
<rect x="366.9" y="192.4" width="6.8" height="6.8"/>
<rect x="374.8" y="190.7" width="6.8" height="6.8"/>
<rect x="367.8" y="195.9" width="6.8" height="6.8"/>
<rect x="366.0" y="197.7" width="6.8" height="6.8"/>
<rect x="384.4" y="185.4" width="6.8" height="6.8"/>
<rect x="383.5" y="188.0" width="6.8" height="6.8"/>
<rect x="390.5" y="190.7" width="6.8" height="6.8"/>
<rect x="397.5" y="185.4" width="6.8" height="6.8"/>
<rect x="400.2" y="186.3" width="6.8" height="6.8"/>
<rect x="331.9" y="194.2" width="6.8" height="6.8"/>
<rect x="339.7" y="197.3" width="6.8" height="6.8"/>
<rect x="344.1" y="199.4" width="6.8" height="6.8"/>
<rect x="357.3" y="199.4" width="6.8" height="6.8"/>
<rect x="356.4" y="202.0" width="6.8" height="6.8"/>
<rect x="374.8" y="204.7" width="6.8" height="6.8"/>
<rect x="387.9" y="204.3" width="6.8" height="6.8"/>
<rect x="390.5" y="203.8" width="6.8" height="6.8"/>
<rect x="407.2" y="202.9" width="6.8" height="6.8"/>
<rect x="374.8" y="209.0" width="6.8" height="6.8"/>
<rect x="373.9" y="211.7" width="6.8" height="6.8"/>
<rect x="386.2" y="210.8" width="6.8" height="6.8"/>
<rect x="396.7" y="210.8" width="6.8" height="6.8"/>
<rect x="414.2" y="211.7" width="6.8" height="6.8"/>
<rect x="421.2" y="210.8" width="6.8" height="6.8"/>
<rect x="430.8" y="195.9" width="6.8" height="6.8"/>
<rect x="329.2" y="208.2" width="6.8" height="6.8"/>
<rect x="333.6" y="223.9" width="6.8" height="6.8"/>
<rect x="335.4" y="227.4" width="6.8" height="6.8"/>
<rect x="341.5" y="229.2" width="6.8" height="6.8"/>
<rect x="331.9" y="232.7" width="6.8" height="6.8"/>
<rect x="344.1" y="232.7" width="6.8" height="6.8"/>
<rect x="354.6" y="221.3" width="6.8" height="6.8"/>
<rect x="357.3" y="228.3" width="6.8" height="6.8"/>
<rect x="373.0" y="221.3" width="6.8" height="6.8"/>
<rect x="384.4" y="223.9" width="6.8" height="6.8"/>
<rect x="378.3" y="225.7" width="6.8" height="6.8"/>
<rect x="398.4" y="226.6" width="6.8" height="6.8"/>
<rect x="405.4" y="225.7" width="6.8" height="6.8"/>
<rect x="387.9" y="230.9" width="6.8" height="6.8"/>
<rect x="396.7" y="218.7" width="6.8" height="6.8"/>
<rect x="427.3" y="221.3" width="6.8" height="6.8"/>
<rect x="410.7" y="237.1" width="6.8" height="6.8"/>
<rect x="412.4" y="240.6" width="6.8" height="6.8"/>
<rect x="387.9" y="237.1" width="6.8" height="6.8"/>
<rect x="394.9" y="239.7" width="6.8" height="6.8"/>
<rect x="388.8" y="243.2" width="6.8" height="6.8"/>
<rect x="379.2" y="237.1" width="6.8" height="6.8"/>
<rect x="366.9" y="239.7" width="6.8" height="6.8"/>
<rect x="366.9" y="249.3" width="6.8" height="6.8"/>
<rect x="377.4" y="251.1" width="6.8" height="6.8"/>
<rect x="352.9" y="252.0" width="6.8" height="6.8"/>
<rect x="337.1" y="252.0" width="6.8" height="6.8"/>
<rect x="333.6" y="243.2" width="6.8" height="6.8"/>
<rect x="330.1" y="239.7" width="6.8" height="6.8"/>
<rect x="328.4" y="246.7" width="6.8" height="6.8"/>
<rect x="338.9" y="246.7" width="6.8" height="6.8"/>
<rect x="402.8" y="259.8" width="6.8" height="6.8"/>
<rect x="414.2" y="259.8" width="6.8" height="6.8"/>
<rect x="387.0" y="259.8" width="6.8" height="6.8"/>
<rect x="375.7" y="259.8" width="6.8" height="6.8"/>
<rect x="364.3" y="259.8" width="6.8" height="6.8"/>
<rect x="438.7" y="212.5" width="6.8" height="6.8"/>
<rect x="311.1" y="169.3" width="6.8" height="6.8"/>
<rect x="289.5" y="185.7" width="6.8" height="6.8"/>
<rect x="323.7" y="190.7" width="6.8" height="6.8"/>
<rect x="354.8" y="183.6" width="6.8" height="6.8"/>
<rect x="317.7" y="217.3" width="6.8" height="6.8"/>
<rect x="306.1" y="224.3" width="6.8" height="6.8"/>
<rect x="319.8" y="223.9" width="6.8" height="6.8"/>
<rect x="320.7" y="230.1" width="6.8" height="6.8"/>
<rect x="311.1" y="231.8" width="6.8" height="6.8"/>
<rect x="277.8" y="246.4" width="6.8" height="6.8"/>
<rect x="286.5" y="243.2" width="6.8" height="6.8"/>
<rect x="289.2" y="247.6" width="6.8" height="6.8"/>
<rect x="297.9" y="247.6" width="6.8" height="6.8"/>
<rect x="305.8" y="243.2" width="6.8" height="6.8"/>
<rect x="310.2" y="241.5" width="6.8" height="6.8"/>
<rect x="311.9" y="245.0" width="6.8" height="6.8"/>
<rect x="307.5" y="246.7" width="6.8" height="6.8"/>
<rect x="318.1" y="239.7" width="6.8" height="6.8"/>
<rect x="323.3" y="237.1" width="6.8" height="6.8"/>
<rect x="325.1" y="243.2" width="6.8" height="6.8"/>
<rect x="337.3" y="243.2" width="6.8" height="6.8"/>
<rect x="344.3" y="241.5" width="6.8" height="6.8"/>
<rect x="348.7" y="253.7" width="6.8" height="6.8"/>
<rect x="352.2" y="255.5" width="6.8" height="6.8"/>
<rect x="294.4" y="255.5" width="6.8" height="6.8"/>
<rect x="297.9" y="257.2" width="6.8" height="6.8"/>
<rect x="309.3" y="253.7" width="6.8" height="6.8"/>
<rect x="310.2" y="257.2" width="6.8" height="6.8"/>
<rect x="332.1" y="255.5" width="6.8" height="6.8"/>
<rect x="278.6" y="261.6" width="6.8" height="6.8"/>
<rect x="285.7" y="261.6" width="6.8" height="6.8"/>
<rect x="289.2" y="261.6" width="6.8" height="6.8"/>
<rect x="314.9" y="247.1" width="6.8" height="6.8"/>
<rect x="320.2" y="243.6" width="6.8" height="6.8"/>
<rect x="302.7" y="255.9" width="6.8" height="6.8"/>
<rect x="323.7" y="255.9" width="6.8" height="6.8"/>
<rect x="300.9" y="268.1" width="6.8" height="6.8"/>
<rect x="304.4" y="271.6" width="6.8" height="6.8"/>
<rect x="313.2" y="269.9" width="6.8" height="6.8"/>
<rect x="321.9" y="268.1" width="6.8" height="6.8"/>
<rect x="330.7" y="269.9" width="6.8" height="6.8"/>
<rect x="337.7" y="271.6" width="6.8" height="6.8"/>
<rect x="343.0" y="271.6" width="6.8" height="6.8"/>
<rect x="337.7" y="278.6" width="6.8" height="6.8"/>
<rect x="330.7" y="278.6" width="6.8" height="6.8"/>
<rect x="327.2" y="280.4" width="6.8" height="6.8"/>
<rect x="323.7" y="276.9" width="6.8" height="6.8"/>
<rect x="343.0" y="280.4" width="6.8" height="6.8"/>
<rect x="246.6" y="299.7" width="6.8" height="6.8"/>
<rect x="250.1" y="302.3" width="6.8" height="6.8"/>
<rect x="257.1" y="300.5" width="6.8" height="6.8"/>
<rect x="258.9" y="307.5" width="6.8" height="6.8"/>
<rect x="299.2" y="320.7" width="6.8" height="6.8"/>
<rect x="297.4" y="324.2" width="6.8" height="6.8"/>
<rect x="299.2" y="327.7" width="6.8" height="6.8"/>
<rect x="307.9" y="331.2" width="6.8" height="6.8"/>
<rect x="311.4" y="331.2" width="6.8" height="6.8"/>
<rect x="322.8" y="317.2" width="6.8" height="6.8"/>
<rect x="327.2" y="292.7" width="6.8" height="6.8"/>
<rect x="340.3" y="294.4" width="6.8" height="6.8"/>
<rect x="343.8" y="304.0" width="6.8" height="6.8"/>
<rect x="383.4" y="238.7" width="6.8" height="6.8"/>
<rect x="385.1" y="263.8" width="6.8" height="6.8"/>
<rect x="396.0" y="263.8" width="6.8" height="6.8"/>
<rect x="378.1" y="267.8" width="6.8" height="6.8"/>
<rect x="369.0" y="273.7" width="6.8" height="6.8"/>
<rect x="374.3" y="276.9" width="6.8" height="6.8"/>
<rect x="388.6" y="275.1" width="6.8" height="6.8"/>
<rect x="414.0" y="275.5" width="6.8" height="6.8"/>
<rect x="421.1" y="275.5" width="6.8" height="6.8"/>
<rect x="433.7" y="277.2" width="6.8" height="6.8"/>
<rect x="401.3" y="284.2" width="6.8" height="6.8"/>
<rect x="388.6" y="310.9" width="6.8" height="6.8"/>
<rect x="347.5" y="276.9" width="6.8" height="6.8"/>
<rect x="504.4" y="283.0" width="6.8" height="6.8"/>
</g>
<rect x="240.4" y="36.1" width="422.0" height="315.7" fill="none" stroke="#111" stroke-width="1.4"/>
<line x1="334.0" y1="351.8" x2="334.0" y2="346.8" stroke="#111" stroke-width="1.4"/>
<line x1="334.0" y1="36.1" x2="334.0" y2="41.1" stroke="#111" stroke-width="1.4"/>
<line x1="240.4" y1="281.1" x2="245.4" y2="281.1" stroke="#111" stroke-width="1.4"/>
<line x1="662.4" y1="281.1" x2="657.4" y2="281.1" stroke="#111" stroke-width="1.4"/>
<text x="334.0" y="380.5" font-size="24" text-anchor="middle" fill="#000">0.5</text>
<text x="234.8" y="291.4" font-size="24" text-anchor="end" fill="#000">0.5</text>
<line x1="429.9" y1="351.8" x2="429.9" y2="346.8" stroke="#111" stroke-width="1.4"/>
<line x1="429.9" y1="36.1" x2="429.9" y2="41.1" stroke="#111" stroke-width="1.4"/>
<line x1="240.4" y1="209.5" x2="245.4" y2="209.5" stroke="#111" stroke-width="1.4"/>
<line x1="662.4" y1="209.5" x2="657.4" y2="209.5" stroke="#111" stroke-width="1.4"/>
<text x="429.9" y="380.5" font-size="24" text-anchor="middle" fill="#000">1</text>
<text x="234.8" y="219.9" font-size="24" text-anchor="end" fill="#000">1</text>
<line x1="525.8" y1="351.8" x2="525.8" y2="346.8" stroke="#111" stroke-width="1.4"/>
<line x1="525.8" y1="36.1" x2="525.8" y2="41.1" stroke="#111" stroke-width="1.4"/>
<line x1="240.4" y1="138.0" x2="245.4" y2="138.0" stroke="#111" stroke-width="1.4"/>
<line x1="662.4" y1="138.0" x2="657.4" y2="138.0" stroke="#111" stroke-width="1.4"/>
<text x="525.8" y="380.5" font-size="24" text-anchor="middle" fill="#000">1.5</text>
<text x="234.8" y="148.4" font-size="24" text-anchor="end" fill="#000">1.5</text>
<line x1="621.6" y1="351.8" x2="621.6" y2="346.8" stroke="#111" stroke-width="1.4"/>
<line x1="621.6" y1="36.1" x2="621.6" y2="41.1" stroke="#111" stroke-width="1.4"/>
<line x1="240.4" y1="66.4" x2="245.4" y2="66.4" stroke="#111" stroke-width="1.4"/>
<line x1="662.4" y1="66.4" x2="657.4" y2="66.4" stroke="#111" stroke-width="1.4"/>
<text x="621.6" y="380.5" font-size="24" text-anchor="middle" fill="#000">2</text>
<text x="234.8" y="76.8" font-size="24" text-anchor="end" fill="#000">2</text>
<text x="437.0" y="409.9" font-size="24" text-anchor="middle" fill="#000">Actual</text>
<text x="193.0" y="198.0" font-size="32.5" text-anchor="middle" fill="#000" transform="rotate(-90 193.0 198.0)">Fit</text>
<rect x="246.6" y="42.8" width="170.5" height="98.9" fill="#fff" stroke="#111" stroke-width="1.4"/>
<circle cx="273.9" cy="60.7" r="4.3" fill="none" stroke="#2e3fa6" stroke-width="1.2"/>
<line x1="254.2" y1="92.3" x2="294.8" y2="92.3" stroke="#5ac346" stroke-width="4"/>
<rect x="270.2" y="120.5" width="7.4" height="7.4" fill="none" stroke="#d92a1e" stroke-width="1.2"/>
<text x="297.4" y="70.5" font-size="27" text-anchor="start" fill="#000">Training</text>
<text x="297.4" y="102.0" font-size="27" text-anchor="start" fill="#000">1:1</text>
<text x="297.4" y="133.5" font-size="27" text-anchor="start" fill="#000">Validation</text>
</g>
<polygon points="163.6,165.0 163.6,351.7 110.0,351.7 110.0,350.3 35.0,350.3 35.0,349.0 0.0,348.6 0.0,344.7 35.0,343.8 66.0,342.7 100.0,341.0 118.0,340.0 124.0,339.3 135.0,337.0 143.0,333.5 147.0,333.3 148.0,332.0 140.5,332.0 140.5,328.5 150.0,328.0 157.0,325.5 158.5,318.0 159.5,310.0 160.3,300.0 161.0,285.0 161.3,268.0 161.5,230.0 161.5,165.0" fill="#141414"/>
<rect x="239.30" y="417.3" width="3.07" height="109.6" fill="#aaaad8" stroke="#1a1a2a" stroke-width="0.9"/>
<rect x="242.37" y="417.3" width="3.07" height="39.5" fill="#aaaad8" stroke="#1a1a2a" stroke-width="0.9"/>
<rect x="245.44" y="417.3" width="3.07" height="68.0" fill="#aaaad8" stroke="#1a1a2a" stroke-width="0.9"/>
<rect x="248.51" y="417.3" width="3.07" height="69.5" fill="#aaaad8" stroke="#1a1a2a" stroke-width="0.9"/>
<rect x="251.58" y="417.3" width="3.07" height="37.3" fill="#aaaad8" stroke="#1a1a2a" stroke-width="0.9"/>
<rect x="254.65" y="417.3" width="3.07" height="56.3" fill="#aaaad8" stroke="#1a1a2a" stroke-width="0.9"/>
<rect x="257.72" y="417.3" width="3.07" height="19.8" fill="#aaaad8" stroke="#1a1a2a" stroke-width="0.9"/>
<rect x="260.79" y="417.3" width="3.07" height="4.5" fill="#aaaad8" stroke="#1a1a2a" stroke-width="0.9"/>
<rect x="263.86" y="417.3" width="3.07" height="10.3" fill="#aaaad8" stroke="#1a1a2a" stroke-width="0.9"/>
<rect x="266.93" y="417.3" width="3.07" height="6.7" fill="#aaaad8" stroke="#1a1a2a" stroke-width="0.9"/>
<rect x="270.00" y="417.3" width="3.07" height="8.9" fill="#aaaad8" stroke="#1a1a2a" stroke-width="0.9"/>
<rect x="273.07" y="417.3" width="3.07" height="2.3" fill="#aaaad8" stroke="#1a1a2a" stroke-width="0.9"/>
<rect x="276.14" y="417.3" width="3.07" height="4.9" fill="#aaaad8" stroke="#1a1a2a" stroke-width="0.9"/>
<rect x="279.21" y="417.3" width="3.07" height="1.3" fill="#aaaad8" stroke="#1a1a2a" stroke-width="0.9"/>
<rect x="282.28" y="417.3" width="3.07" height="2.5" fill="#aaaad8" stroke="#1a1a2a" stroke-width="0.9"/>
<rect x="285.35" y="417.3" width="3.07" height="1.1" fill="#aaaad8" stroke="#1a1a2a" stroke-width="0.9"/>
<line x1="239.3" y1="417.3" x2="663" y2="417.3" stroke="#111" stroke-width="1.6"/>
<text x="650.5" y="527.5" font-size="29" letter-spacing="0.6" style="font-family:&quot;Liberation Serif&quot;,serif">(a)</text>
<text x="289.6" y="556.3" font-size="21" text-anchor="start" fill="#000">SeaWIFSag412(N=5126)</text>
<g id="pb">
<path d="M202.6 967.9 A82.5 82.5 0 0 1 285.1 1050.4" fill="none" stroke="#222" stroke-width="1.4" stroke-dasharray="1.4 4.4"/>
<path d="M202.6 885.4 A165.0 165.0 0 0 1 367.6 1050.4" fill="none" stroke="#222" stroke-width="1.4" stroke-dasharray="1.4 4.4"/>
<path d="M202.6 802.9 A247.5 247.5 0 0 1 450.1 1050.4" fill="none" stroke="#222" stroke-width="1.4" stroke-dasharray="1.4 4.4"/>
<path d="M202.6 720.4 A330.0 330.0 0 0 1 532.6 1050.4" fill="none" stroke="#222" stroke-width="1.4" stroke-dasharray="1.4 4.4"/>
<line x1="202.6" y1="1050.4" x2="243.8" y2="640.0" stroke="#2e43a6" stroke-width="1.8" stroke-dasharray="8.8 5.2 1.5 4.2" stroke-dashoffset="15.7"/>
<line x1="202.6" y1="1050.4" x2="285.1" y2="646.2" stroke="#2e43a6" stroke-width="1.8" stroke-dasharray="8.8 5.2 1.5 4.2" stroke-dashoffset="15.7"/>
<line x1="202.6" y1="1050.4" x2="326.3" y2="656.9" stroke="#2e43a6" stroke-width="1.8" stroke-dasharray="8.8 5.2 1.5 4.2" stroke-dashoffset="15.7"/>
<line x1="202.6" y1="1050.4" x2="367.6" y2="672.3" stroke="#2e43a6" stroke-width="1.8" stroke-dasharray="8.8 5.2 1.5 4.2" stroke-dashoffset="15.7"/>
<line x1="202.6" y1="1050.4" x2="408.8" y2="693.2" stroke="#2e43a6" stroke-width="1.8" stroke-dasharray="8.8 5.2 1.5 4.2" stroke-dashoffset="15.7"/>
<line x1="202.6" y1="1050.4" x2="450.1" y2="720.4" stroke="#2e43a6" stroke-width="1.8" stroke-dasharray="8.8 5.2 1.5 4.2" stroke-dashoffset="15.7"/>
<line x1="202.6" y1="1050.4" x2="491.4" y2="755.8" stroke="#2e43a6" stroke-width="1.8" stroke-dasharray="8.8 5.2 1.5 4.2" stroke-dashoffset="15.7"/>
<line x1="202.6" y1="1050.4" x2="532.6" y2="802.9" stroke="#2e43a6" stroke-width="1.8" stroke-dasharray="8.8 5.2 1.5 4.2" stroke-dashoffset="15.7"/>
<line x1="202.6" y1="1050.4" x2="573.9" y2="870.6" stroke="#2e43a6" stroke-width="1.8" stroke-dasharray="8.8 5.2 1.5 4.2" stroke-dashoffset="15.7"/>
<line x1="202.6" y1="1050.4" x2="594.5" y2="921.6" stroke="#2e43a6" stroke-width="1.8" stroke-dasharray="8.8 5.2 1.5 4.2" stroke-dashoffset="15.7"/>
<line x1="202.6" y1="1050.4" x2="611.0" y2="992.2" stroke="#2e43a6" stroke-width="1.8" stroke-dasharray="8.8 5.2 1.5 4.2" stroke-dashoffset="15.7"/>
<path d="M496.3 1050.4 L496.3 1048.2 L496.4 1046.1 L496.6 1043.9 L496.8 1041.8 L497.0 1039.6 L497.3 1037.5 L497.7 1035.4 L498.1 1033.2 L498.6 1031.1 L499.1 1029.0 L499.7 1027.0 L500.3 1024.9 L501.0 1022.9 L501.8 1020.8 L502.6 1018.8 L503.4 1016.8 L504.3 1014.9 L505.3 1012.9 L506.3 1011.0 L507.4 1009.2 L508.5 1007.3 L509.6 1005.5 L510.8 1003.7 L512.1 1001.9 L513.3 1000.2 L514.7 998.5 L516.1 996.8 L517.5 995.2 L519.0 993.6 L520.5 992.1 L522.0 990.6 L523.6 989.1 L525.2 987.7 L526.9 986.3 L528.6 984.9 L530.3 983.7 L532.1 982.4 L533.9 981.2 L535.7 980.1 L537.5 979.0 L539.4 977.9 L541.3 976.9 L543.3 975.9 L545.2 975.0 L547.2 974.2 L549.2 973.4 L551.3 972.6 L553.3 971.9 L555.4 971.3 L557.4 970.7 L559.5 970.2 L561.6 969.7 L563.8 969.3 L565.9 968.9 L568.0 968.6 L570.2 968.4 L572.3 968.2 L574.5 968.0 L576.6 967.9 L578.8 967.9 L581.0 967.9 L583.1 968.0 L585.3 968.2 L587.4 968.4 L589.6 968.6 L591.7 968.9 L593.8 969.3 L596.0 969.7 L598.1 970.2 L600.2 970.7 L602.2 971.3 L604.3 971.9 L606.3 972.6" fill="none" stroke="#1f9a1f" stroke-width="2" stroke-dasharray="8.5 5.5"/>
<path d="M413.8 1050.4 L413.9 1046.1 L414.0 1041.8 L414.3 1037.5 L414.7 1033.2 L415.2 1028.9 L415.8 1024.6 L416.6 1020.3 L417.4 1016.1 L418.4 1011.9 L419.4 1007.7 L420.6 1003.5 L421.9 999.4 L423.3 995.3 L424.8 991.3 L426.4 987.3 L428.1 983.3 L429.9 979.4 L431.8 975.5 L433.8 971.7 L435.9 967.9 L438.1 964.2 L440.4 960.5 L442.8 956.9 L445.3 953.4 L447.9 950.0 L450.6 946.6 L453.3 943.2 L456.2 940.0 L459.1 936.8 L462.1 933.7 L465.2 930.7 L468.4 927.8 L471.6 924.9 L475.0 922.2 L478.4 919.5 L481.8 916.9 L485.3 914.4 L488.9 912.0 L492.6 909.7 L496.3 907.5 L500.1 905.4 L503.9 903.4 L507.8 901.5 L511.7 899.7 L515.7 898.0 L519.7 896.4 L523.7 894.9 L527.8 893.5 L531.9 892.2 L536.1 891.0 L540.3 890.0 L544.5 889.0 L548.7 888.2 L553.0 887.4 L557.3 886.8 L561.6 886.3 L565.9 885.9 L570.2 885.6 L574.5 885.5 L578.8 885.4" fill="none" stroke="#1f9a1f" stroke-width="2" stroke-dasharray="8.5 5.5"/>
<path d="M331.3 1050.4 L331.4 1043.9 L331.6 1037.4 L332.1 1031.0 L332.7 1024.5 L333.4 1018.1 L334.3 1011.7 L335.4 1005.3 L336.7 998.9 L338.1 992.6 L339.7 986.3 L341.5 980.1 L343.4 973.9 L345.5 967.8 L347.7 961.7 L350.1 955.7 L352.7 949.7 L355.4 943.8 L358.3 938.0 L361.3 932.3 L364.5 926.7 L367.8 921.1 L371.2 915.6 L374.8 910.2 L378.6 904.9 L382.4 899.7 L386.5 894.6 L390.6 889.7 L394.9 884.8 L399.3 880.0 L403.8 875.4 L408.4 870.9 L413.2 866.5 L418.1 862.2 L423.0 858.1 L428.1 854.0 L433.3 850.2 L438.6 846.4 L444.0 842.8 L449.5 839.4 L455.0 836.1 L460.7 832.9 L466.4 829.9 L472.2 827.0 L478.1 824.3 L484.1 821.7 L490.1 819.3 L496.2 817.1 L502.3 815.0 L508.5 813.1 L514.7 811.3 L521.0 809.7 L527.3 808.3 L533.7 807.0" fill="none" stroke="#1f9a1f" stroke-width="2" stroke-dasharray="8.5 5.5"/>
<path d="M248.8 1050.4 L248.9 1041.8 L249.3 1033.1 L249.8 1024.5 L250.6 1015.9 L251.6 1007.3 L252.9 998.8 L254.3 990.3 L256.0 981.8 L257.9 973.4 L260.0 965.0 L262.4 956.7 L265.0 948.4 L267.7 940.2 L270.7 932.1 L273.9 924.1 L277.3 916.2 L280.9 908.3 L284.8 900.6 L288.8 892.9 L293.0 885.4 L297.4 878.0 L302.0 870.7 L306.8 863.5 L311.8 856.4 L317.0 849.5 L322.3 842.7 L327.9 836.1 L333.6 829.6 L339.4 823.2 L345.5 817.1 L351.6 811.0 L358.0 805.2 L364.5 799.5 L371.1 793.9 L377.9 788.6 L384.8 783.4 L391.9 778.4 L399.1 773.6 L406.4 769.0 L413.8 764.6 L421.3 760.4 L429.0 756.4 L436.7 752.5 L444.6 748.9 L452.5 745.5 L460.5 742.3 L468.6 739.3" fill="none" stroke="#1f9a1f" stroke-width="2" stroke-dasharray="8.5 5.5"/>
<path d="M206.5 872.8 L211.3 863.1 L216.3 853.6 L221.6 844.2 L227.1 834.9 L232.8 825.7 L238.8 816.8 L245.1 807.9 L251.5 799.3 L258.2 790.8 L265.1 782.5 L272.3 774.4 L279.6 766.5 L287.1 758.7 L294.9 751.2 L302.8 743.9 L310.9 736.7 L319.2 729.8 L327.7 723.1 L336.3 716.7 L345.2 710.4 L354.1 704.4 L363.3 698.7 L372.5 693.2 L382.0 687.9" fill="none" stroke="#1f9a1f" stroke-width="2" stroke-dasharray="8.5 5.5"/>
<path d="M202.6 637.9000000000001 A412.5 412.5 0 0 1 615.1 1050.4" fill="none" stroke="#000" stroke-width="1.6"/>
<line x1="202.6" y1="637.9000000000001" x2="202.6" y2="1051.7" stroke="#000" stroke-width="2.7"/>
<line x1="201.29999999999998" y1="1050.4" x2="615.1" y2="1050.4" stroke="#000" stroke-width="2.7"/>
<line x1="202.6" y1="967.9" x2="206.6" y2="967.9" stroke="#000" stroke-width="1.2"/>
<line x1="202.6" y1="885.4" x2="206.6" y2="885.4" stroke="#000" stroke-width="1.2"/>
<line x1="202.6" y1="802.9" x2="206.6" y2="802.9" stroke="#000" stroke-width="1.2"/>
<line x1="202.6" y1="720.4" x2="206.6" y2="720.4" stroke="#000" stroke-width="1.2"/>
<text x="195.0" y="1055.0" font-size="24" text-anchor="end" fill="#000">0</text>
<text x="195.0" y="972.5" font-size="24" text-anchor="end" fill="#000">0.1</text>
<text x="195.0" y="890.0" font-size="24" text-anchor="end" fill="#000">0.2</text>
<text x="195.0" y="807.5" font-size="24" text-anchor="end" fill="#000">0.3</text>
<text x="195.0" y="725.0" font-size="24" text-anchor="end" fill="#000">0.4</text>
<text x="195.0" y="642.5" font-size="24" text-anchor="end" fill="#000">0.5</text>
<text x="149.0" y="822.7" font-size="24" text-anchor="middle" fill="#000" font-weight="bold" transform="rotate(-90 149.0 822.7)">Standard deviation</text>
<text x="202.6" y="621.4" font-size="13" text-anchor="middle" fill="#2e43a6">0</text>
<text x="246.0" y="623.5" font-size="13" text-anchor="middle" fill="#2e43a6">0.1</text>
<text x="289.3" y="630.1" font-size="13" text-anchor="middle" fill="#2e43a6">0.2</text>
<text x="332.7" y="641.3" font-size="13" text-anchor="middle" fill="#2e43a6">0.3</text>
<text x="376.0" y="657.6" font-size="13" text-anchor="middle" fill="#2e43a6">0.4</text>
<text x="419.4" y="679.4" font-size="13" text-anchor="middle" fill="#2e43a6">0.5</text>
<text x="462.7" y="708.1" font-size="13" text-anchor="middle" fill="#2e43a6">0.6</text>
<text x="506.1" y="745.3" font-size="13" text-anchor="middle" fill="#2e43a6">0.7</text>
<text x="549.4" y="794.8" font-size="13" text-anchor="middle" fill="#2e43a6">0.8</text>
<text x="592.8" y="865.9" font-size="13" text-anchor="middle" fill="#2e43a6">0.9</text>
<text x="614.5" y="919.5" font-size="13" text-anchor="middle" fill="#2e43a6">0.95</text>
<text x="631.8" y="993.7" font-size="13" text-anchor="middle" fill="#2e43a6">0.99</text>
<text x="636.1" y="1054.9" font-size="13" text-anchor="middle" fill="#2e43a6">1</text>
<text x="360.7" y="618.4" font-size="28" font-weight="bold" fill="#2e43a6" text-anchor="middle" transform="rotate(20.1 360.7 618.4)">C</text>
<text x="377.6" y="625.0" font-size="28" font-weight="bold" fill="#2e43a6" text-anchor="middle" transform="rotate(22.4 377.6 625.0)">o</text>
<text x="394.3" y="632.2" font-size="28" font-weight="bold" fill="#2e43a6" text-anchor="middle" transform="rotate(24.6 394.3 632.2)">r</text>
<text x="410.7" y="640.1" font-size="28" font-weight="bold" fill="#2e43a6" text-anchor="middle" transform="rotate(26.9 410.7 640.1)">r</text>
<text x="426.7" y="648.7" font-size="28" font-weight="bold" fill="#2e43a6" text-anchor="middle" transform="rotate(29.2 426.7 648.7)">e</text>
<text x="442.4" y="657.8" font-size="28" font-weight="bold" fill="#2e43a6" text-anchor="middle" transform="rotate(31.4 442.4 657.8)">l</text>
<text x="457.7" y="667.6" font-size="28" font-weight="bold" fill="#2e43a6" text-anchor="middle" transform="rotate(33.7 457.7 667.6)">a</text>
<text x="472.6" y="678.0" font-size="28" font-weight="bold" fill="#2e43a6" text-anchor="middle" transform="rotate(35.9 472.6 678.0)">t</text>
<text x="487.1" y="689.0" font-size="28" font-weight="bold" fill="#2e43a6" text-anchor="middle" transform="rotate(38.2 487.1 689.0)">i</text>
<text x="501.2" y="700.5" font-size="28" font-weight="bold" fill="#2e43a6" text-anchor="middle" transform="rotate(40.5 501.2 700.5)">o</text>
<text x="514.8" y="712.5" font-size="28" font-weight="bold" fill="#2e43a6" text-anchor="middle" transform="rotate(42.7 514.8 712.5)">n</text>
<text x="540.5" y="738.2" font-size="28" font-weight="bold" fill="#2e43a6" text-anchor="middle" transform="rotate(47.3 540.5 738.2)">C</text>
<text x="552.5" y="751.8" font-size="28" font-weight="bold" fill="#2e43a6" text-anchor="middle" transform="rotate(49.5 552.5 751.8)">o</text>
<text x="564.0" y="765.9" font-size="28" font-weight="bold" fill="#2e43a6" text-anchor="middle" transform="rotate(51.8 564.0 765.9)">e</text>
<text x="575.0" y="780.4" font-size="28" font-weight="bold" fill="#2e43a6" text-anchor="middle" transform="rotate(54.1 575.0 780.4)">f</text>
<text x="585.4" y="795.3" font-size="28" font-weight="bold" fill="#2e43a6" text-anchor="middle" transform="rotate(56.3 585.4 795.3)">f</text>
<text x="595.2" y="810.6" font-size="28" font-weight="bold" fill="#2e43a6" text-anchor="middle" transform="rotate(58.6 595.2 810.6)">i</text>
<text x="604.3" y="826.3" font-size="28" font-weight="bold" fill="#2e43a6" text-anchor="middle" transform="rotate(60.8 604.3 826.3)">c</text>
<text x="612.9" y="842.3" font-size="28" font-weight="bold" fill="#2e43a6" text-anchor="middle" transform="rotate(63.1 612.9 842.3)">i</text>
<text x="620.8" y="858.7" font-size="28" font-weight="bold" fill="#2e43a6" text-anchor="middle" transform="rotate(65.4 620.8 858.7)">e</text>
<text x="628.0" y="875.4" font-size="28" font-weight="bold" fill="#2e43a6" text-anchor="middle" transform="rotate(67.6 628.0 875.4)">n</text>
<text x="634.6" y="892.3" font-size="28" font-weight="bold" fill="#2e43a6" text-anchor="middle" transform="rotate(69.9 634.6 892.3)">t</text>
<text x="523.7" y="971.9" font-size="13" fill="#1f9a1f" text-anchor="middle" dominant-baseline="central" transform="rotate(-40 523.7 971.9)">0.1</text>
<text x="465.4" y="913.4" font-size="13" fill="#1f9a1f" text-anchor="middle" dominant-baseline="central" transform="rotate(-40 465.4 913.4)">0.2</text>
<text x="408.0" y="854.9" font-size="13" fill="#1f9a1f" text-anchor="middle" dominant-baseline="central" transform="rotate(-40 408.0 854.9)">0.3</text>
<text x="348.7" y="796.1" font-size="13" fill="#1f9a1f" text-anchor="middle" dominant-baseline="central" transform="rotate(-40 348.7 796.1)">0.4</text>
<text x="290.9" y="739.3" font-size="13" fill="#1f9a1f" text-anchor="middle" dominant-baseline="central" transform="rotate(-40 290.9 739.3)">0.5</text>
<text x="452.3" y="1001.2" font-size="26" font-weight="bold" fill="#1f9a1f" text-anchor="middle" dominant-baseline="central" letter-spacing="5" transform="rotate(-69.6 452.3 1001.2)">RMSD</text>
<circle cx="578.8" cy="1050.4" r="4.5" fill="#e0302a"/>
<circle cx="518.4" cy="952.7" r="4.5" fill="#e0302a"/>
<text x="511.5" y="948.0" font-size="20" text-anchor="middle" fill="#e0302a">B</text>
<text x="573.0" y="1046.0" font-size="20" text-anchor="middle" fill="#e0302a">A</text>
</g>
<text x="649" y="1065.1" font-size="29" letter-spacing="0.6" style="font-family:&quot;Liberation Serif&quot;,serif">(b)</text>
<text x="233.2" y="1089.6" font-size="21" text-anchor="start" fill="#000">SeaWIFSag412FeatureImportance</text>
<g id="pc">
<line x1="242.3" y1="1107.5" x2="242.3" y2="1534.6" stroke="#888" stroke-width="1.1" stroke-dasharray="1.3 4.25"/>
<line x1="318.8" y1="1107.5" x2="318.8" y2="1534.6" stroke="#888" stroke-width="1.1" stroke-dasharray="1.3 4.25"/>
<line x1="395.2" y1="1107.5" x2="395.2" y2="1534.6" stroke="#888" stroke-width="1.1" stroke-dasharray="1.3 4.25"/>
<line x1="471.7" y1="1107.5" x2="471.7" y2="1534.6" stroke="#888" stroke-width="1.1" stroke-dasharray="1.3 4.25"/>
<line x1="548.1" y1="1107.5" x2="548.1" y2="1534.6" stroke="#888" stroke-width="1.1" stroke-dasharray="1.3 4.25"/>
<line x1="624.5" y1="1107.5" x2="624.5" y2="1534.6" stroke="#888" stroke-width="1.1" stroke-dasharray="1.3 4.25"/>
<line x1="204.4" y1="1458.9" x2="663.0" y2="1458.9" stroke="#888" stroke-width="1.1" stroke-dasharray="1.3 4.25"/>
<line x1="204.4" y1="1383.3" x2="663.0" y2="1383.3" stroke="#888" stroke-width="1.1" stroke-dasharray="1.3 4.25"/>
<line x1="204.4" y1="1307.6" x2="663.0" y2="1307.6" stroke="#888" stroke-width="1.1" stroke-dasharray="1.3 4.25"/>
<rect x="211.6" y="1321.3" width="61.4" height="213.3" fill="#3b2e93" stroke="#111" stroke-width="0.8"/>
<text x="252.6" y="1309.4" font-size="25" transform="rotate(-90 252.6 1309.4)">Rrs412</text>
<rect x="288.1" y="1353.0" width="61.4" height="181.6" fill="#3b2e93" stroke="#111" stroke-width="0.8"/>
<text x="329.1" y="1343.1" font-size="25" transform="rotate(-90 329.1 1343.1)">Rrs555</text>
<rect x="364.5" y="1383.3" width="61.4" height="151.3" fill="#3b2e93" stroke="#111" stroke-width="0.8"/>
<text x="405.5" y="1375.3" font-size="25" transform="rotate(-90 405.5 1375.3)">Rrs443</text>
<rect x="441.0" y="1422.6" width="61.4" height="112.0" fill="#3b2e93" stroke="#111" stroke-width="0.8"/>
<text x="482.0" y="1417.1" font-size="25" transform="rotate(-90 482.0 1417.1)">Rrs670</text>
<rect x="517.4" y="1425.7" width="61.4" height="108.9" fill="#3b2e93" stroke="#111" stroke-width="0.8"/>
<text x="558.4" y="1420.3" font-size="25" transform="rotate(-90 558.4 1420.3)">Rrs490</text>
<rect x="593.8" y="1462.0" width="61.4" height="72.6" fill="#3b2e93" stroke="#111" stroke-width="0.8"/>
<text x="634.8" y="1458.9" font-size="25" transform="rotate(-90 634.8 1458.9)">Rrs510</text>
<rect x="204.4" y="1107.5" width="458.6" height="427.1" fill="none" stroke="#555" stroke-width="1.4"/>
<line x1="242.3" y1="1534.6" x2="242.3" y2="1539.1" stroke="#555" stroke-width="1.3"/>
<line x1="242.3" y1="1107.5" x2="242.3" y2="1103.0" stroke="#555" stroke-width="1.3"/>
<text x="242.3" y="1570.0" font-size="24" text-anchor="middle" fill="#000">1</text>
<line x1="318.8" y1="1534.6" x2="318.8" y2="1539.1" stroke="#555" stroke-width="1.3"/>
<line x1="318.8" y1="1107.5" x2="318.8" y2="1103.0" stroke="#555" stroke-width="1.3"/>
<text x="318.8" y="1570.0" font-size="24" text-anchor="middle" fill="#000">2</text>
<line x1="395.2" y1="1534.6" x2="395.2" y2="1539.1" stroke="#555" stroke-width="1.3"/>
<line x1="395.2" y1="1107.5" x2="395.2" y2="1103.0" stroke="#555" stroke-width="1.3"/>
<text x="395.2" y="1570.0" font-size="24" text-anchor="middle" fill="#000">3</text>
<line x1="471.7" y1="1534.6" x2="471.7" y2="1539.1" stroke="#555" stroke-width="1.3"/>
<line x1="471.7" y1="1107.5" x2="471.7" y2="1103.0" stroke="#555" stroke-width="1.3"/>
<text x="471.7" y="1570.0" font-size="24" text-anchor="middle" fill="#000">4</text>
<line x1="548.1" y1="1534.6" x2="548.1" y2="1539.1" stroke="#555" stroke-width="1.3"/>
<line x1="548.1" y1="1107.5" x2="548.1" y2="1103.0" stroke="#555" stroke-width="1.3"/>
<text x="548.1" y="1570.0" font-size="24" text-anchor="middle" fill="#000">5</text>
<line x1="624.5" y1="1534.6" x2="624.5" y2="1539.1" stroke="#555" stroke-width="1.3"/>
<line x1="624.5" y1="1107.5" x2="624.5" y2="1103.0" stroke="#555" stroke-width="1.3"/>
<text x="624.5" y="1570.0" font-size="24" text-anchor="middle" fill="#000">6</text>
<line x1="204.4" y1="1534.6" x2="199.9" y2="1534.6" stroke="#555" stroke-width="1.3"/>
<line x1="663.0" y1="1534.6" x2="667.5" y2="1534.6" stroke="#555" stroke-width="1.3"/>
<text x="196.5" y="1544.6" font-size="24" text-anchor="end" fill="#000">0</text>
<line x1="204.4" y1="1458.9" x2="199.9" y2="1458.9" stroke="#555" stroke-width="1.3"/>
<line x1="663.0" y1="1458.9" x2="667.5" y2="1458.9" stroke="#555" stroke-width="1.3"/>
<text x="196.5" y="1467.4" font-size="24" text-anchor="end" fill="#000">0.5</text>
<line x1="204.4" y1="1383.3" x2="199.9" y2="1383.3" stroke="#555" stroke-width="1.3"/>
<line x1="663.0" y1="1383.3" x2="667.5" y2="1383.3" stroke="#555" stroke-width="1.3"/>
<text x="196.5" y="1391.8" font-size="24" text-anchor="end" fill="#000">1</text>
<line x1="204.4" y1="1307.6" x2="199.9" y2="1307.6" stroke="#555" stroke-width="1.3"/>
<line x1="663.0" y1="1307.6" x2="667.5" y2="1307.6" stroke="#555" stroke-width="1.3"/>
<text x="196.5" y="1316.1" font-size="24" text-anchor="end" fill="#000">1.5</text>
<text x="408.0" y="1594.5" font-size="24.5" text-anchor="middle" fill="#000">InputVariable</text>
<text x="150.0" y="1351.7" font-size="24.7" text-anchor="middle" fill="#000" transform="rotate(-90 150.0 1351.7)">Variableimportance</text>
</g>
<text x="652.5" y="1601.5" font-size="29" letter-spacing="0.6" style="font-family:&quot;Liberation Serif&quot;,serif">(c)</text>
</svg></body></html>
